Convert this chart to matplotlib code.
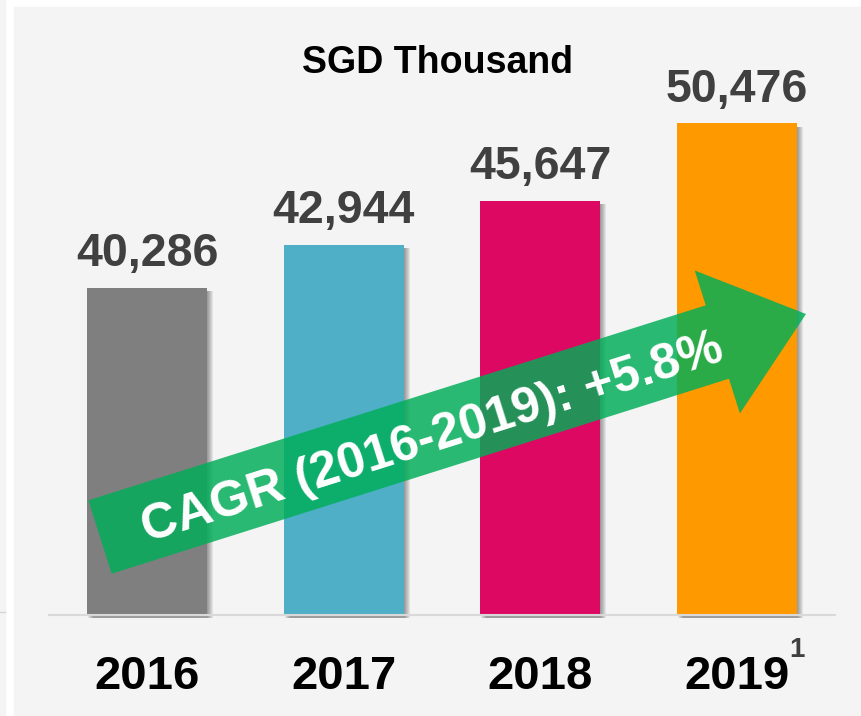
import numpy as np
import matplotlib
matplotlib.use("Agg")
import matplotlib.pyplot as plt
import matplotlib.patheffects as pe
from matplotlib.patches import Rectangle, FancyArrow
from matplotlib.lines import Line2D
from matplotlib.transforms import Affine2D, blended_transform_factory

plt.rcParams['font.family'] = ['Liberation Sans', 'DejaVu Sans']

# data
years = ['2016', '2017', '2018', '2019']
revenue = [40286, 42944, 45647, 50476]
bar_colors = ['#7f7f7f', '#4fafc7', '#dc0862', '#ff9900']
footnotes = ['', '', '', '1']
unit_label = 'SGD Thousand'
cagr_label = 'CAGR (2016-2019): +5.8%'

base = 20000   # axis floor, the chart does not start at zero
W, H = 861, 716
fig = plt.figure(figsize=(W / 100, H / 100), dpi=100, facecolor='white')
# pixel coords, y pointing down, for the decoration
px = Affine2D().scale(1 / W, -1 / H).translate(0, 1) + fig.transFigure

# grey panels
fig.add_artist(Rectangle((14, 7), W - 14, H - 7, transform=px, color='#f4f4f4', zorder=-2))
fig.add_artist(Rectangle((0, 0), 5, H, transform=px, color='#f4f4f4', zorder=-2))
fig.add_artist(Line2D([0, 5], [612, 612], transform=px, color='#d6d6d6', lw=1, zorder=-1))

ax = fig.add_axes([49 / W, 101 / H, 786 / W, 500 / H])
ax.set_facecolor('none')
ax.axis('off')
ax.set_xlim(-0.5, 3.5)
ax.set_ylim(base, 51000)

x = np.arange(len(years))
bars = ax.bar(x, np.array(revenue) - base, bottom=base, width=0.61,
              color=bar_colors, clip_on=False, zorder=2)
for b in bars:
    shadows = [pe.SimplePatchShadow(offset=(0.72 * d, -2.2), shadow_rgbFace='black', alpha=0.07)
               for d in range(1, 7)]
    b.set_path_effects(shadows + [pe.Normal()])

ax.axhline(base, color='#d9d9d9', lw=1.5, zorder=3, clip_on=False)

# value labels
for i, v in enumerate(revenue):
    ax.annotate(f'{v:,}', (i, v), xytext=(0, 15.8), textcoords='offset points',
                ha='center', va='baseline', fontsize=33.5, fontweight='bold',
                color='#404040', annotation_clip=False)

# year labels under the axis
trans = blended_transform_factory(ax.transData, ax.transAxes)
for i, yr in enumerate(years):
    ax.annotate(yr, (i, 0), xycoords=trans, xytext=(0, -53.3), textcoords='offset points',
                ha='center', va='baseline', fontsize=34, fontweight='bold',
                color='black', annotation_clip=False)
    if footnotes[i]:
        ax.annotate(footnotes[i], (i, 0), xycoords=trans, xytext=(37.5, -30.5),
                    textcoords='offset points', ha='left', va='baseline',
                    fontsize=20, fontweight='bold', color='#404040',
                    annotation_clip=False)

fig.text(437.5 / W, 1 - 73 / H, unit_label, ha='center', va='baseline',
         fontsize=27, fontweight='bold', color='black')

# CAGR arrow
arrow = FancyArrow(100, 537, 706, -223, width=77, head_width=150, head_length=93,
                   length_includes_head=True, transform=px, color='#00ae58',
                   alpha=0.83, lw=0, zorder=5)
fig.add_artist(arrow)
fig.text(433 / W, 1 - 439 / H, cagr_label, rotation=17.5, rotation_mode='anchor',
         ha='center', va='center', fontsize=36, fontweight='bold', color='white', zorder=6)

fig.savefig('out.png', dpi=100, facecolor='white')
